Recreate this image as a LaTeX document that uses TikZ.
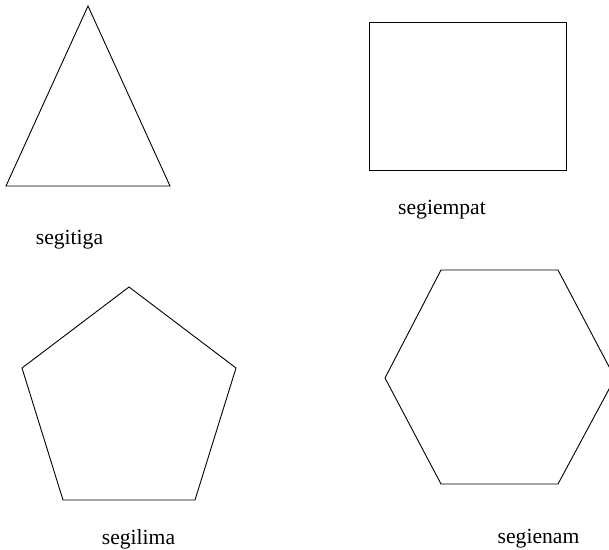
\documentclass[tikz,border=0pt]{standalone}
\usepackage{fontspec}
\setmainfont{Liberation Serif}
\begin{document}
\begin{tikzpicture}[x=1pt, y=-1pt, line width=0.9pt,
  shapelabel/.style={font=\fontsize{21.6}{24}\selectfont, inner sep=0pt}]
  \useasboundingbox (0,0) rectangle (609,549);

  % Triangle
  \draw (88,6) -- (170,186) -- (6,186) -- cycle;
  \node[shapelabel] (segitiga) at (69.5,240) {segitiga};

  % Rectangle
  \draw (369,22) rectangle (566,170);
  \node[shapelabel] (segiempat) at (442,210) {segiempat};

  % Pentagon
  \draw (129,287) -- (236,368) -- (195,500) -- (63,500) -- (22,368) -- cycle;
  \node[shapelabel] (segilima) at (138.5,539) {segilima};

  % Hexagon (runs off the right edge)
  \draw (441,270) -- (558,270) -- (615,378) -- (558,484) -- (441,484) -- (385,378) -- cycle;
  \node[shapelabel] (segienam) at (538.5,539) {segienam};
\end{tikzpicture}
\end{document}
